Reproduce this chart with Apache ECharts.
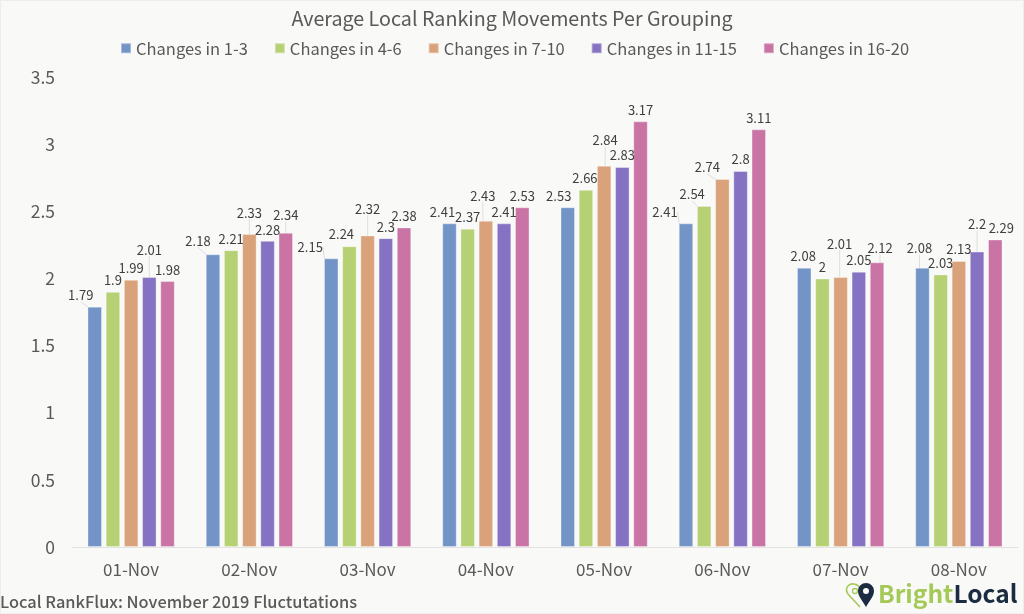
<!DOCTYPE html>
<html><head><meta charset="utf-8">
<style>html,body{margin:0;padding:0;background:#f9f9f8}#c{width:1024px;height:614px}</style>
<script src="https://cdn.jsdelivr.net/npm/echarts@6/dist/echarts.min.js"></script>
</head><body><div id="c"></div>
<script>
const categories = ['01-Nov','02-Nov','03-Nov','04-Nov','05-Nov','06-Nov','07-Nov','08-Nov'];
const changes1to3 = [1.79,2.18,2.15,2.41,2.53,2.41,2.08,2.08];
const changes4to6 = [1.9,2.21,2.24,2.37,2.66,2.54,2,2.03];
const changes7to10 = [1.99,2.33,2.32,2.43,2.84,2.74,2.01,2.13];
const changes11to15 = [2.01,2.28,2.3,2.41,2.83,2.8,2.05,2.2];
const changes16to20 = [1.98,2.34,2.38,2.53,3.17,3.11,2.12,2.29];
const seriesNames = ['Changes in 1-3','Changes in 4-6','Changes in 7-10','Changes in 11-15','Changes in 16-20'];
const seriesValues = [changes1to3,changes4to6,changes7to10,changes11to15,changes16to20];
const colors = ['#7294c6','#b5d174','#d9a27a','#8572c2','#c974a4'];
// label nudges [dx,dy] per series, per date
const nudges = [
 [[-14,0],[-15,-2],[-21,0],[-7,0],[-9,0],[-21,0],[-1,0],[-3,-8]],
 [[0,0],[0,0],[-8,-1],[0,0],[-1,0],[-12,0],[0,0],[0,0]],
 [[0,0],[0,-10],[0,-15],[-3,-13],[1,-14],[-15,0],[-1,-22],[0,0]],
 [[0,-16],[0,1],[0,0],[0,0],[0,0],[0,0],[0,0],[0,-16]],
 [[0,0],[0,-6],[0,0],[0,0],[0,0],[0,0],[3,-3],[6,0]]
];
const hasLeader = (n) => n[1] <= -3 || Math.abs(n[0]) >= 10;
const FONT = '"Noto Sans CJK SC","Noto Sans",sans-serif';
echarts.graphic.registerShape('heartOutline', echarts.graphic.extendPath('M14 24 L2 11 C-2 5 3 0 8 1 C11 1.5 13 3 14 5', {}));
echarts.graphic.registerShape('pinSolid', echarts.graphic.extendPath('M15 24 C11 17 7 13 7 8 A8 8 0 0 1 23 8 C23 13 19 17 15 24 Z M15 5 A3 3 0 1 0 15.01 5 Z', {}));
const chart = echarts.init(document.getElementById('c'), null, {renderer:'canvas'});
chart.setOption({
  animation:false,
  backgroundColor:'#f9f9f8',
  textStyle:{fontFamily:FONT},
  title:{text:'Average Local Ranking Movements Per Grouping',left:'center',top:4,
    textStyle:{fontFamily:FONT,fontSize:19.7,fontWeight:'normal',color:'#595959'}},
  legend:{top:35,left:115,itemWidth:10,itemHeight:10,itemGap:26,icon:'rect',
    textStyle:{fontFamily:FONT,fontSize:16.5,color:'#595959'},
    data:seriesNames},
  grid:{left:72,right:6,top:77,bottom:67},
  xAxis:{type:'category',data:categories,
    axisLine:{lineStyle:{color:'#e2e2e0'}},axisTick:{show:false},
    axisLabel:{fontFamily:FONT,fontSize:17,color:'#595959',margin:14}},
  yAxis:{type:'value',min:0,max:3.5,interval:0.5,
    axisLine:{show:false},axisTick:{show:false},splitLine:{show:false},
    axisLabel:{fontFamily:FONT,fontSize:17.5,color:'#595959',margin:17}},
  series:seriesNames.map((name,s)=>({
    name,type:'bar',barWidth:14.5,barGap:'25.5%',
    itemStyle:{color:colors[s],borderColor:'rgba(255,255,255,0.35)',borderWidth:1},
    label:{show:true,position:'top',distance:5,fontFamily:FONT,fontSize:13,color:'#404040'},
    labelLine:{lineStyle:{color:'#dedede',width:1}},
    labelLayout:(p)=>{const n=nudges[s][p.dataIndex];return {dx:n[0],dy:n[1]};},
    data:seriesValues[s].map((value,i)=>({value,labelLine:{show:hasLeader(nudges[s][i])}}))
  })),
  graphic:[
    {type:'rect',silent:true,z:-1,shape:{x:0.5,y:0.5,width:1023,height:613},style:{fill:'none',stroke:'#ededec',lineWidth:1}},
    {type:'text',x:0,y:594,style:{text:'Local RankFlux: November 2019 Fluctutations',fontFamily:FONT,fontSize:16.4,fontWeight:500,fill:'#595959'}},
    {type:'text',x:878,y:581,z:10,style:{rich:{a:{fontFamily:FONT,fontSize:24.5,fontWeight:700,fill:'#a4c957'},b:{fontFamily:FONT,fontSize:24.5,fontWeight:700,fill:'#1b2c40'}},text:'{a|Bright}{b|Local}'}},
    {type:'heartOutline',z:10,x:846,y:583,style:{fill:'none',stroke:'#a4c957',lineWidth:1.6}},
    {type:'circle',z:10,shape:{cx:855,cy:591,r:2.5},style:{fill:'none',stroke:'#a4c957',lineWidth:1.3}},
    {type:'pinSolid',z:11,x:851,y:583,style:{fill:'#1b2c40'}}
  ]
});
</script></body></html>
